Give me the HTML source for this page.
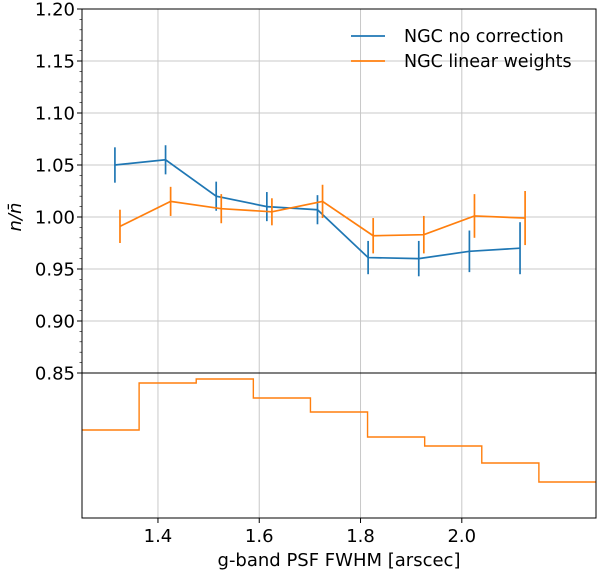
<!DOCTYPE html>
<html><head><meta charset="utf-8"><style>
html,body{margin:0;padding:0;background:#fff;}
svg text{font-family:"DejaVu Sans","Liberation Sans",sans-serif;fill:#000;}
</style></head><body>
<svg id="chart" width="603" height="573" viewBox="0 0 603 573" xmlns="http://www.w3.org/2000/svg"></svg>
<script>
const xBlue = [1.315,1.415,1.515,1.615,1.715,1.815,1.915,2.015,2.115];
const yBlue = [1.050,1.055,1.020,1.010,1.007,0.961,0.960,0.967,0.970];
const eBlue = [0.017,0.014,0.014,0.014,0.014,0.016,0.017,0.020,0.025];
const xOrange = [1.325,1.425,1.525,1.625,1.725,1.825,1.925,2.025,2.125];
const yOrange = [0.991,1.015,1.008,1.005,1.015,0.982,0.983,1.001,0.999];
const eOrange = [0.016,0.014,0.014,0.013,0.016,0.017,0.018,0.021,0.026];
const histCounts = [88,135,139,120,106,81,72,55,36];
const yTicks = [0.85,0.90,0.95,1.00,1.05,1.10,1.15,1.20];
const xTicks = [1.4,1.6,1.8,2.0];

const svg = document.getElementById('chart');
const NS='http://www.w3.org/2000/svg';
const L=82,R=596,T=9,MID=373,B=518;
const xmin=1.25,xmax=2.265;
const X=v=>L+(v-xmin)/(xmax-xmin)*(R-L);
const Y=v=>MID-(v-0.85)/(0.35)*(MID-T);
const H=v=>B-v/145*(B-MID);
function el(tag,attrs,parent){const e=document.createElementNS(NS,tag);for(const k in attrs)e.setAttribute(k,attrs[k]);(parent||svg).appendChild(e);return e;}

xTicks.forEach(t=>{const g=el('line',{x1:X(t),x2:X(t),y1:T,y2:B,stroke:'#c8c8c8','stroke-width':1});

});
yTicks.forEach(t=>{if(t===0.85)return;const g=el('line',{x1:L,x2:R,y1:Y(t),y2:Y(t),stroke:'#c8c8c8','stroke-width':1});

});

let d='';const nb=histCounts.length;const w=(xmax-xmin)/nb;
histCounts.forEach((c,i)=>{const x0=X(xmin+i*w),x1=X(xmin+(i+1)*w);d+=(i===0?'M':'L')+x0+' '+H(c)+' L'+x1+' '+H(c)+' ';});
const hist=el('path',{d:d,fill:'none',stroke:'#ff7f0e','stroke-width':1.4});



function series(xs,ys,es,color,name){
  const p=el('polyline',{points:xs.map((x,i)=>X(x)+','+Y(ys[i])).join(' '),fill:'none',stroke:color,'stroke-width':1.7});
  
  
  xs.forEach((x,i)=>{const e=el('line',{x1:X(x),x2:X(x),y1:Y(ys[i]-es[i]),y2:Y(ys[i]+es[i]),stroke:color,'stroke-width':1.7});
  
  });
}
series(xBlue,yBlue,eBlue,'#1f77b4','no-correction');
series(xOrange,yOrange,eOrange,'#ff7f0e','linear-weights');

el('rect',{x:L,y:T,width:R-L,height:B-T,fill:'none',stroke:'#000','stroke-width':1});
el('line',{x1:L,x2:R,y1:MID,y2:MID,stroke:'#000','stroke-width':1});

yTicks.forEach(t=>{el('line',{x1:L-5,x2:L,y1:Y(t),y2:Y(t),stroke:'#000','stroke-width':1});
const tx=el('text',{x:L-7,y:Y(t)+6.5,'text-anchor':'end','font-size':18});tx.textContent=t.toFixed(2);

});
for(let v=0.86;v<1.2;v+=0.01){if(Math.abs(v*20-Math.round(v*20))<0.01)continue;el('line',{x1:L-2.5,x2:L,y1:Y(v),y2:Y(v),stroke:'#000','stroke-width':0.6});}
xTicks.forEach(t=>{el('line',{x1:X(t),x2:X(t),y1:B,y2:B+5,stroke:'#000','stroke-width':1});
const tx=el('text',{x:X(t),y:B+24,'text-anchor':'middle','font-size':18});tx.textContent=t.toFixed(1);

});

const xl=el('text',{x:(L+R)/2,y:566,'text-anchor':'middle','font-size':18});xl.textContent='g-band PSF FWHM [arscec]';


const yl=el('text',{x:0,y:0,'text-anchor':'middle','font-size':18,'font-style':'italic',transform:'translate(21,217) rotate(-90)'});yl.textContent='n/n̄';



[['#1f77b4','NGC no correction',36,'legend-no-correction'],['#ff7f0e','NGC linear weights',61,'legend-linear-weights']].forEach(a=>{
 const g=el('g',{});
 
 
 el('line',{x1:351,x2:385,y1:a[2],y2:a[2],stroke:a[0],'stroke-width':1.7},g);
 const t=el('text',{x:404,y:a[2]+6,'font-size':17.5},g);t.textContent=a[1];
});
</script>
</body></html>
